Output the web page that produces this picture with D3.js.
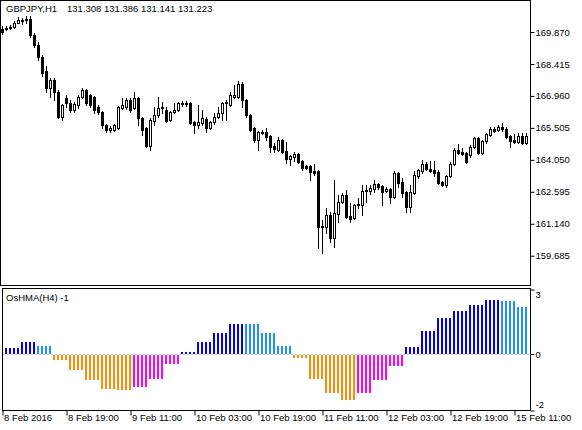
<!DOCTYPE html>
<html><head><meta charset="utf-8">
<script src="https://cdn.jsdelivr.net/npm/d3@7"></script>
<style>
html,body{margin:0;padding:0;background:#fff;}
svg{display:block;}
text{font-family:"Liberation Sans",Arial,sans-serif;font-size:9.5px;fill:#000;}
</style></head><body>
<svg id="c" width="582" height="430"></svg>
<script>
const symbolTitle = "GBPJPY,H1";
const lastQuote = "131.308 131.386 131.141 131.223";
const indicatorTitle = "OsHMA(H4) -1";

const opens = [170.01,170.03,170.05,170.08,170.30,170.40,170.42,170.44,169.73,169.28,
168.73,168.10,167.32,167.68,167.14,166.00,166.86,166.64,166.32,166.55,
166.91,167.23,167.00,166.91,166.45,166.23,165.63,165.41,165.41,165.50,
166.41,166.45,166.77,166.41,166.86,165.95,165.50,164.68,165.82,166.09,
166.41,166.32,165.86,166.23,166.32,166.64,166.59,166.64,165.77,165.63,
165.73,165.91,165.50,165.77,166.00,166.18,166.64,166.55,166.91,166.91,
167.51,166.77,166.09,165.50,164.95,165.32,165.32,165.14,164.68,164.50,
164.95,164.45,164.09,164.18,164.31,164.00,163.77,163.77,163.54,163.54,
161.03,160.99,161.54,160.49,161.58,162.13,162.45,161.49,161.40,161.99,
161.99,162.63,162.63,162.72,162.95,162.86,162.63,162.72,162.36,163.45,
163.04,162.58,161.90,162.54,163.31,163.54,163.86,163.63,163.59,163.50,
163.04,162.90,163.31,163.86,164.50,164.41,164.36,164.27,164.63,165.04,
164.36,164.91,165.18,165.45,165.41,165.54,165.45,165.14,164.95,164.86,
165.14,164.82];
const highs = [170.14,170.14,170.19,170.37,170.55,170.51,170.60,170.60,169.82,169.41,
168.82,168.32,167.78,167.78,167.23,166.59,167.00,166.77,166.68,167.00,
167.32,167.28,167.05,166.95,166.55,166.27,165.68,165.59,165.68,166.50,
166.86,166.86,166.86,167.14,166.91,166.00,165.54,165.95,166.45,166.91,
166.68,166.45,166.27,166.64,166.68,166.73,166.73,166.68,165.82,166.55,
166.32,166.00,165.82,166.18,166.45,166.68,166.77,167.14,167.46,167.64,
167.60,166.82,166.14,165.54,165.36,165.41,165.50,165.18,164.82,165.09,
165.00,164.86,164.27,164.41,164.36,164.04,163.81,163.81,163.86,163.59,
161.31,161.85,161.67,163.13,162.45,162.54,162.68,162.08,162.04,162.31,
162.90,162.90,162.90,163.13,162.99,162.90,162.81,162.77,163.54,163.50,
163.22,162.63,162.90,163.54,163.63,164.04,163.95,164.00,164.00,163.59,
163.08,163.36,163.95,164.59,164.77,164.59,164.41,164.73,165.09,165.09,
164.95,165.27,165.54,165.54,165.63,165.73,165.54,165.18,165.23,165.27,
165.27,165.27];
const lows = [169.78,169.96,170.01,170.05,170.28,170.23,170.28,169.64,169.19,168.60,
167.87,167.14,166.91,166.77,165.95,165.86,166.45,166.23,166.23,166.41,
166.86,166.55,166.45,166.18,166.14,165.50,165.32,165.32,165.36,165.45,
166.36,166.36,166.23,166.36,165.63,165.18,164.63,164.50,165.63,166.00,
166.18,165.77,165.82,166.18,166.27,166.50,166.50,165.68,165.27,165.50,
165.63,165.32,165.45,165.68,165.95,165.86,165.86,166.50,166.86,166.86,
166.45,166.00,165.36,164.86,164.50,165.23,164.95,164.41,164.41,164.45,
164.36,163.90,163.81,164.00,163.90,163.59,163.63,163.13,163.36,160.03,
159.80,160.72,160.31,160.08,161.22,162.08,161.40,161.22,161.35,161.85,
161.54,162.13,162.50,162.58,162.72,161.99,162.58,162.08,162.31,162.81,
162.36,161.67,161.67,162.50,163.22,163.45,163.59,163.50,163.31,162.95,
162.86,162.81,163.27,163.81,164.31,164.27,163.90,164.18,164.59,164.31,
164.31,164.82,165.14,165.32,165.36,165.36,165.04,164.63,164.82,164.82,
164.77,164.77];
const closes = [169.87,170.05,170.08,170.30,170.40,170.42,170.44,169.73,169.28,168.73,
168.00,167.32,167.68,167.14,166.00,166.55,166.64,166.32,166.59,166.91,
167.23,166.64,166.55,166.32,166.23,165.63,165.41,165.50,165.63,166.45,
166.55,166.77,166.32,166.86,165.95,165.41,164.68,165.86,166.09,166.41,
166.45,165.82,166.23,166.32,166.64,166.59,166.64,165.73,165.63,165.77,
165.95,165.50,165.77,166.00,166.18,166.64,166.68,167.00,167.00,167.51,
166.77,166.09,165.41,164.95,165.32,165.27,165.09,164.63,164.54,164.95,
164.41,164.09,164.22,164.31,163.95,163.68,163.68,163.50,163.45,160.99,
160.99,161.54,160.49,161.63,162.13,162.45,161.45,161.35,161.99,162.04,
162.63,162.68,162.77,162.95,162.81,162.58,162.72,162.36,163.45,162.99,
162.54,161.90,162.58,163.36,163.59,163.86,163.63,163.54,163.45,162.99,
162.90,163.31,163.86,164.50,164.36,164.31,163.95,164.63,165.04,164.36,
164.91,165.23,165.45,165.36,165.54,165.45,165.09,164.91,164.86,165.14,
164.82,165.14];

// OsHMA on H4: one value per 4 H1 bars (first entry = 8 Feb 00:00 H4 bar)
const oshmaH4 = [0.15,0.25,0.57,0.35,-0.30,-0.83,-1.33,-1.75,-1.80,-1.68,-1.25,-0.53,
0.07,0.57,1.02,1.47,1.45,1.02,0.35,-0.23,-1.25,-1.98,-2.28,-1.98,-1.33,-0.63,
0.30,1.10,1.75,2.10,2.40,2.65,2.60,2.30];
const oshmaRange = [-2.8, 3.2];

const priceTicks = [169.870,168.415,166.960,165.505,164.050,162.595,161.140,159.685];
const priceRange = [158.306, 171.327];
const timeLabels = ["8 Feb 2016","8 Feb 19:00","9 Feb 11:00","10 Feb 03:00","10 Feb 19:00","11 Feb 11:00","12 Feb 03:00","12 Feb 19:00","15 Feb 11:00"];
const timeLabelBars = [0,16,32,48,64,80,96,112,128];

const svg = d3.select("#c");
const right = 530;
const mainTop = 0, mainBottom = 286;
const indTop = 289, indBottom = 410;

const x = d3.scaleLinear().domain([0, opens.length - 1]).range([2, 2 + 4 * (opens.length - 1)]);
const y = d3.scaleLinear().domain(priceRange).range([mainBottom, mainTop]);
const yi = d3.scaleLinear().domain(oshmaRange).range([indBottom, indTop]);

svg.append("rect").attr("width",582).attr("height",430).attr("fill","#fff");

const defs = svg.append("defs");
defs.append("clipPath").attr("id","cm").append("rect").attr("x",1).attr("y",1).attr("width",right-1).attr("height",mainBottom-2);
defs.append("clipPath").attr("id","ci").append("rect").attr("x",3).attr("y",indTop+1).attr("width",right-3).attr("height",indBottom-indTop-1);

// candles
const bars = d3.range(opens.length).map(i => ({i, o:opens[i], h:highs[i], l:lows[i], c:closes[i]}));
const gm = svg.append("g").attr("clip-path","url(#cm)");
gm.selectAll("line.w").data(bars).join("line")
  .attr("x1", d => x(d.i) + 0.5).attr("x2", d => x(d.i) + 0.5)
  .attr("y1", d => Math.round(y(d.h))).attr("y2", d => Math.round(y(d.l)) + 1)
  .attr("stroke","#000").attr("stroke-width",1);
gm.selectAll("rect.b").data(bars).join("rect")
  .each(function(d){
    const yo = Math.round(y(d.o)), yc = Math.round(y(d.c));
    const t = Math.min(yo,yc), b = Math.max(yo,yc);
    const s = d3.select(this);
    if (d.c > d.o) {
      s.attr("x", x(d.i) - 0.5).attr("y", t + 0.5).attr("width", 2).attr("height", Math.max(b - t, 1))
       .attr("fill","#fff").attr("stroke","#000").attr("stroke-width",1);
    } else {
      s.attr("x", x(d.i) - 1).attr("y", t).attr("width", 3).attr("height", Math.max(b - t + 1, 1))
       .attr("fill","#000");
    }
  });

// indicator
const indBars = d3.range(opens.length).map(i => {
  const g = Math.floor((i + 3) / 4);
  const v = oshmaH4[g], p = g > 0 ? oshmaH4[g-1] : v;
  let col;
  if (v >= 0) col = v >= p ? "#0000FF" : "#1E90FF";
  else col = v <= p ? "#FF8C00" : "#FF00FF";
  return {i, v, col};
});
const y0 = Math.round(yi(0));
const gi = svg.append("g").attr("clip-path","url(#ci)");
gi.append("line").attr("x1",3).attr("x2",right).attr("y1",y0+0.5).attr("y2",y0+0.5)
  .attr("stroke","#C0C0C0").attr("stroke-dasharray","2,2");
gi.selectAll("rect").data(indBars).join("rect")
  .attr("x", d => x(d.i) - 1).attr("width", 2)
  .attr("y", d => d.v >= 0 ? Math.round(yi(d.v)) : y0 + 1)
  .attr("height", d => d.v >= 0 ? y0 - Math.round(yi(d.v)) : Math.round(yi(d.v)) - y0 - 1)
  .attr("fill", d => d.col);

// frames
svg.append("rect").attr("x",0.5).attr("y",0.5).attr("width",right).attr("height",mainBottom-1)
  .attr("fill","none").attr("stroke","#000");
svg.append("rect").attr("x",2.5).attr("y",indTop-0.5).attr("width",right-2).attr("height",indBottom-indTop+1)
  .attr("fill","none").attr("stroke","#000");

// price axis
const pa = svg.append("g").attr("transform",`translate(${right+0.5},0)`)
  .call(d3.axisRight(y).tickValues(priceTicks).tickSize(4).tickPadding(1).tickFormat(d3.format(".3f")));
pa.select(".domain").remove();
pa.selectAll("text").style("font-family",'"Liberation Sans",Arial,sans-serif').style("font-size","9.5px");

// indicator axis
const ia = svg.append("g").attr("transform",`translate(${right+0.5},0.5)`)
  .call(d3.axisRight(yi).tickValues([oshmaRange[1], 0, oshmaRange[0]]).tickSize(4).tickPadding(1).tickFormat(d => String(Math.trunc(d))));
ia.select(".domain").remove();
ia.selectAll("text").style("font-family",'"Liberation Sans",Arial,sans-serif').style("font-size","9.5px")
  .attr("y", d => { const p = yi(d); return Math.min(Math.max(p, indTop + 5), indBottom - 6) - p; });

// time axis
const ta = svg.append("g").attr("transform",`translate(0.5,${indBottom+0.5})`)
  .call(d3.axisBottom(x).tickValues(timeLabelBars).tickSize(5).tickFormat((d,k) => timeLabels[k]));
ta.select(".domain").remove();
ta.selectAll("text").style("font-family",'"Liberation Sans",Arial,sans-serif').style("font-size","9.5px")
  .attr("text-anchor","start").attr("x",1).attr("y",4);

// titles
svg.append("text").attr("x",6).attr("y",12).text(symbolTitle);
svg.append("text").attr("x",67).attr("y",12).text(lastQuote);
svg.append("text").attr("x",6).attr("y",indTop+12).text(indicatorTitle);
</script>
</body></html>
